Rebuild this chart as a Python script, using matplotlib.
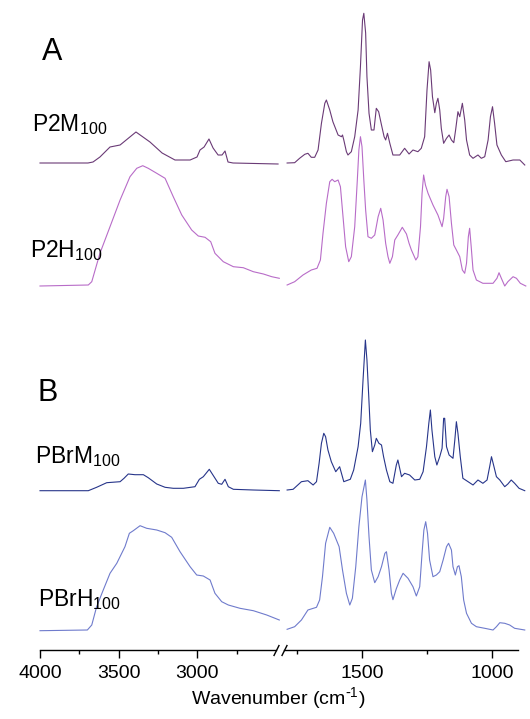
import numpy as np
import matplotlib
matplotlib.use("Agg")
import matplotlib.pyplot as plt

plt.rcParams['font.family'] = ['Liberation Sans', 'DejaVu Sans']
plt.rcParams['mathtext.default'] = 'regular'

# FTIR spectra, wavenumber (cm-1) vs absorbance (a.u.)
p2m_wn = [4000, 3695, 3663, 3619, 3555, 3491, 3390, 3301, 3224, 3142, 3046, 3002, 2983, 2957, 2926,
          2900, 2868, 2843, 2824, 2805, 2773, 2487,
          1788, 1759, 1740, 1720, 1708, 1695, 1682, 1669, 1656, 1643, 1637, 1624, 1612, 1592, 1579,
          1575, 1570, 1560, 1554, 1541, 1528, 1515, 1506, 1498, 1493, 1486, 1481, 1473, 1464, 1454,
          1445, 1436, 1425, 1415, 1409, 1402, 1393, 1381, 1355, 1336, 1319, 1304, 1285, 1272, 1259,
          1250, 1242, 1236, 1229, 1220, 1214, 1208, 1201, 1195, 1186, 1175, 1165, 1156, 1147, 1140,
          1131, 1124, 1114, 1105, 1098, 1086, 1073, 1054, 1041, 1028, 1015, 1006, 998, 990, 981,
          964, 947, 919, 893, 874]
p2m_ab = [0, 0, 1, 6, 16, 18, 31, 21, 10, 3, 3, 6, 13, 16, 24,
          15, 8, 8, 12, 1, 0, -1,
          0, 0.3, 4.7, 8.7, 9.7, 5.7, 5.7, 13, 39.7, 59.7, 63, 53, 41.3, 28, 26.3,
          28, 23, 11.3, 8, 11.3, 26.3, 53, 96.3, 143, 149.7, 130, 86.3, 49.7, 33, 33,
          54.7, 51.3, 38, 26.3, 23, 29.7, 19.7, 8, 8, 14.7, 9, 13, 11.3, 14.7, 26.3,
          73, 101.3, 93, 66.3, 50.3, 59.7, 64.7, 53, 34.7, 19.7, 24.7, 28, 23, 20.3, 33,
          51.3, 46.3, 59.7, 43, 23, 8, 4.7, 8, 4.7, 6.3, 23, 46.3, 56.3, 39.7, 18,
          8, 1.3, 3, 3, -2]

p2h_wn = [4000, 3693, 3671, 3619, 3555, 3491, 3428, 3385, 3347, 3312, 3258, 3205, 3153, 3099, 3036,
          2994, 2951, 2915, 2888, 2835, 2771, 2708, 2644, 2580, 2527, 2479,
          1788, 1759, 1727, 1695, 1673, 1660, 1650, 1637, 1624, 1615, 1605, 1592, 1583, 1573, 1563,
          1551, 1541, 1528, 1518, 1512, 1506, 1500, 1493, 1486, 1477, 1464, 1451, 1438, 1428, 1419,
          1409, 1400, 1393, 1383, 1374, 1362, 1345, 1329, 1319, 1310, 1293, 1285, 1275, 1269, 1263,
          1256, 1246, 1227, 1208, 1192, 1186, 1178, 1173, 1165, 1156, 1147, 1137, 1124, 1114, 1105,
          1098, 1091, 1086, 1080, 1073, 1060, 1035, 996, 981, 973, 964, 951, 939, 919, 906, 891, 870]
p2h_ab = [0, 1, 4.3, 32.7, 59.3, 86, 109.3, 117.7, 120.3, 117.7, 112.7, 107.7, 89.3, 71, 56,
          50, 48.7, 44.3, 32.7, 24.3, 19.3, 18.3, 14.3, 12, 9.3, 7.7,
          1, 4.3, 11, 16, 17.7, 26, 52.7, 82.7, 104.3, 106.7, 104.3, 106, 99.3, 69.3, 39.3,
          24.3, 29.3, 59.3, 106, 136, 149.3, 139.3, 106, 76, 49.3, 47.7, 51, 69.3, 77.7, 66,
          42.7, 29.3, 22.7, 29.3, 46, 51, 58.7, 52, 42.7, 36, 26, 29.3, 59.3, 92.7, 111,
          101, 92.7, 81, 71, 59.3, 67.7, 89.3, 96.7, 89.3, 62.7, 41, 36, 29.3, 16, 12.7,
          22.7, 49.3, 57.7, 39.3, 16, 6, 2.7, 2.7, 7.7, 13.3, 7.7, 0, 4.3, 9.3, 7.7, 2.7, 0]

pbrm_wn = [4000, 3693, 3640, 3576, 3491, 3466, 3439, 3396, 3343, 3312, 3258, 3205, 3153, 3089, 3015,
           2987, 2962, 2924, 2898, 2867, 2845, 2824, 2803, 2771, 2644, 2479,
           1788, 1765, 1733, 1708, 1688, 1675, 1665, 1656, 1647, 1640, 1631, 1618, 1601, 1586, 1579,
           1570, 1560, 1545, 1532, 1515, 1505, 1496, 1487, 1481, 1474, 1468, 1460, 1451, 1445, 1435,
           1425, 1417, 1406, 1393, 1381, 1368, 1362, 1355, 1348, 1336, 1317, 1297, 1278, 1265, 1252,
           1243, 1237, 1231, 1220, 1212, 1201, 1192, 1186, 1182, 1175, 1165, 1150, 1143, 1137, 1131,
           1122, 1112, 1092, 1073, 1054, 1035, 1019, 1009, 1002, 994, 983, 970, 951, 939, 926, 913,
           896, 874]
pbrm_ab = [0, 0, 3.4, 8, 9, 12.4, 16.7, 16, 16, 13, 6.7, 3.4, 2.4, 2.4, 4,
           11.4, 14, 21.4, 15, 7.4, 6.4, 11.4, 4, 1.4, 0.7, 0,
           0.7, 1.4, 9, 10, 5.7, 9, 27.4, 47.4, 57.4, 54, 40.7, 29, 19, 24, 17.4,
           9, 10, 11.4, 20.7, 44, 67.4, 110.7, 150.7, 130.7, 94, 60.7, 39, 45.7, 52.4, 47.4,
           45.7, 34, 20.7, 9, 7.4, 25.7, 30.7, 22.4, 14, 17.4, 15.7, 10.7, 11.4, 19, 44,
           67.4, 80.7, 60.7, 34, 25.7, 34, 42.4, 72.4, 72.4, 44, 35.7, 32.4, 50.7, 69, 57.4,
           34, 12.4, 9, 5.7, 10.7, 7.4, 10.7, 24, 34, 25.7, 14, 10.7, 4, 6.7, 10.7, 7.4,
           2.4, 0]

pbrh_wn = [4000, 3699, 3671, 3640, 3598, 3555, 3512, 3460, 3432, 3407, 3364, 3322, 3258, 3205, 3163,
           3110, 3046, 3004, 2962, 2919, 2888, 2845, 2803, 2729, 2644, 2559, 2479,
           1788, 1759, 1733, 1708, 1675, 1663, 1652, 1640, 1624, 1609, 1588, 1575, 1560, 1547, 1537,
           1524, 1512, 1500, 1487, 1481, 1473, 1464, 1451, 1438, 1425, 1412, 1406, 1396, 1387, 1381,
           1368, 1355, 1342, 1323, 1304, 1291, 1278, 1269, 1262, 1255, 1248, 1240, 1227, 1214, 1201,
           1188, 1175, 1167, 1156, 1150, 1141, 1133, 1127, 1118, 1109, 1098, 1079, 1060, 1028, 996,
           983, 970, 951, 932, 913, 874]
pbrh_ab = [0, 0.7, 5.7, 24, 40.7, 57.4, 67.4, 84, 97.4, 100, 105, 102.4, 100.7, 98, 93.4,
           79, 64, 55.7, 54.7, 50.7, 37.4, 29, 25.7, 22.4, 20, 15.7, 10.7,
           1.4, 4, 10.7, 20.7, 23.4, 30.7, 54, 87.4, 103.4, 97.4, 84, 60.7, 37.4, 25.7, 32.4,
           64, 104, 134, 150.7, 130.7, 94, 60.7, 48, 54, 64, 77.4, 79, 60.7, 37.4, 31,
           42, 50.7, 57.4, 52.4, 44, 34.7, 44, 77.4, 100.7, 109, 97.4, 70.7, 54, 55.7, 59,
           70.7, 84, 87.4, 80.7, 64, 55.7, 64, 65, 54, 30.7, 17.4, 7.4, 4, 2.4, 0.7,
           4, 8, 7.4, 5.7, 2.4, 0.7]

spectra = [(p2m_wn, p2m_ab), (p2h_wn, p2h_ab), (pbrm_wn, pbrm_ab), (pbrh_wn, pbrh_ab)]
offsets = [487, 364, 159.3, 19.3]
colors = ['#6a3a76', '#b86cc8', '#27358a', '#6f7bcc']

W, H = 530, 719
fig = plt.figure(figsize=(W / 100, H / 100), dpi=100)
axL = fig.add_axes([40 / W, 69 / H, 236 / W, 650 / H])
axR = fig.add_axes([284 / W, 69 / H, 234 / W, 650 / H])

for (wn, ab), off, c in zip(spectra, offsets, colors):
    wn = np.array(wn)
    ab = np.array(ab) + off
    left = wn > 2000
    axL.plot(wn[left], ab[left], color=c, lw=0.8, clip_on=False)
    axR.plot(wn[~left], ab[~left], color=c, lw=0.8, clip_on=False)

axL.set_xlim(4000, 2500)
axR.set_xlim(1800, 900)
for ax in (axL, axR):
    ax.set_ylim(0, 650)
    ax.set_yticks([])
    for s in ('top', 'left', 'right'):
        ax.spines[s].set_visible(False)
    ax.spines['bottom'].set_linewidth(1.0)
    ax.tick_params(axis='x', which='major', direction='out', length=6, width=1, labelsize=14, pad=5)
    ax.tick_params(axis='x', which='minor', direction='out', length=3, width=1)
    ax.patch.set_alpha(0)

axL.set_xticks([4000, 3500, 3000])
axL.set_xticks([3750, 3250, 2750], minor=True)
axR.set_xticks([1500, 1000])
axR.set_xticks([1750, 1250], minor=True)

# break marks
brk = dict(marker=[(-1, -2), (1, 2)], markersize=8, linestyle='none', color='k',
           mec='k', mew=1, clip_on=False)
axL.plot([1], [0], transform=axL.transAxes, **brk)
axR.plot([0], [0], transform=axR.transAxes, **brk)

fig.text(278 / W, 1 - 698 / H, r'Wavenumber (cm$^{\text{-}1}$)', ha='center', va='center', fontsize=14)

def lab(x, y, s, size):
    fig.text(x / W, 1 - y / H, s, ha='left', va='baseline', fontsize=size)

lab(42, 60, 'A', 22)
lab(37, 401, 'B', 22)
lab(32, 131, 'P2M$_{100}$', 16.5)
lab(30, 257, 'P2H$_{100}$', 16.5)
lab(35, 463, 'PBrM$_{100}$', 16.5)
lab(38, 606, 'PBrH$_{100}$', 16.5)

fig.savefig('out.png', dpi=100)
